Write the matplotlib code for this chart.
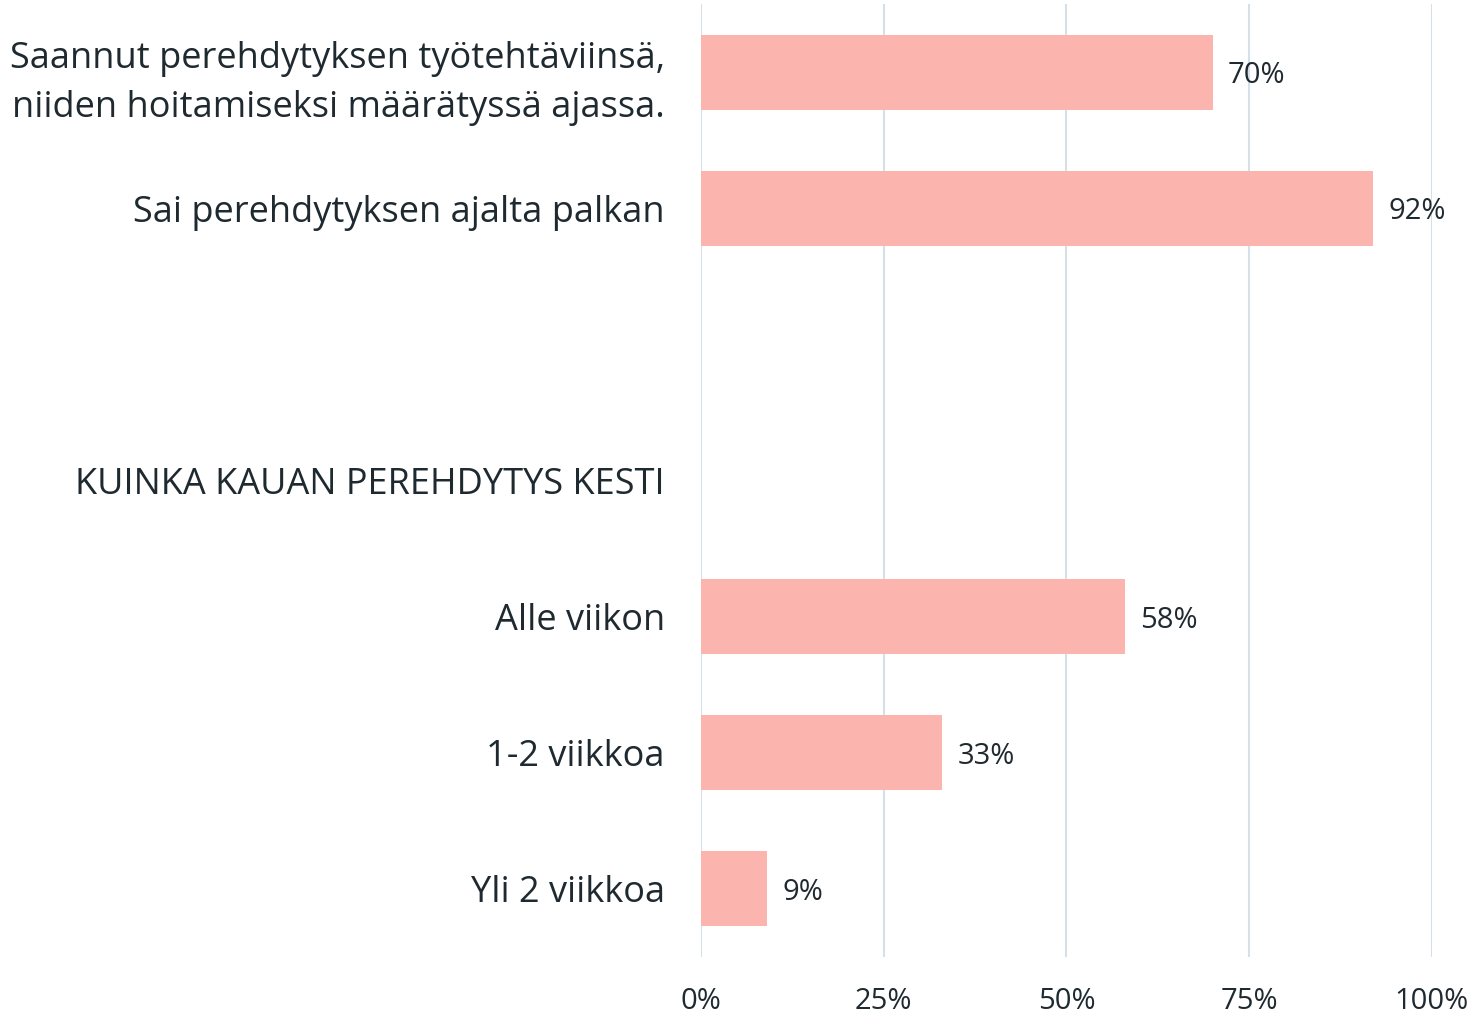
import matplotlib.pyplot as plt

categories = [
    'Saannut perehdytyksen työtehtäviinsä,\nniiden hoitamiseksi määrätyssä ajassa.',
    'Sai perehdytyksen ajalta palkan',
    '',
    'KUINKA KAUAN PEREHDYTYS KESTI',
    'Alle viikon',
    '1-2 viikkoa',
    'Yli 2 viikkoa',
]
values = [70, 92, None, None, 58, 33, 9]
ticks = [0, 25, 50, 75, 100]
tick_labels = ['0%', '25%', '50%', '75%', '100%']

text_col = '#1f2a30'
bar_col = '#fbb4ae'
grid_col = '#d6e0e8'

plt.rcParams['font.family'] = ['Open Sans', 'DejaVu Sans']

fig = plt.figure(figsize=(14.76, 10.18), dpi=100)
ax = fig.add_axes([0.475, 0.060, 0.495, 0.936])

ypos = list(range(len(categories)))
for y, v in zip(ypos, values):
    if v is None:
        continue
    ax.barh(y, v, height=0.55, color=bar_col, zorder=2)
    ax.annotate(f'{v}%', (v, y), xytext=(11, 0), textcoords='offset points',
                ha='left', va='center_baseline', fontsize=21, color=text_col)

ax.set_xlim(0, 100)
ax.set_ylim(len(categories) - 0.5, -0.5)
ax.set_xticks(ticks)
ax.set_xticklabels(tick_labels)
ax.set_yticks(ypos)
ax.set_yticklabels(categories, linespacing=1.5)
ax.tick_params(axis='y', length=0, pad=26, labelsize=26, labelcolor=text_col)
ax.tick_params(axis='x', length=0, pad=22, labelsize=21, labelcolor=text_col)
ax.grid(axis='x', color=grid_col, linewidth=1.5, zorder=0)
for s in ax.spines.values():
    s.set_visible(False)

fig.savefig('out.png', dpi=100)
